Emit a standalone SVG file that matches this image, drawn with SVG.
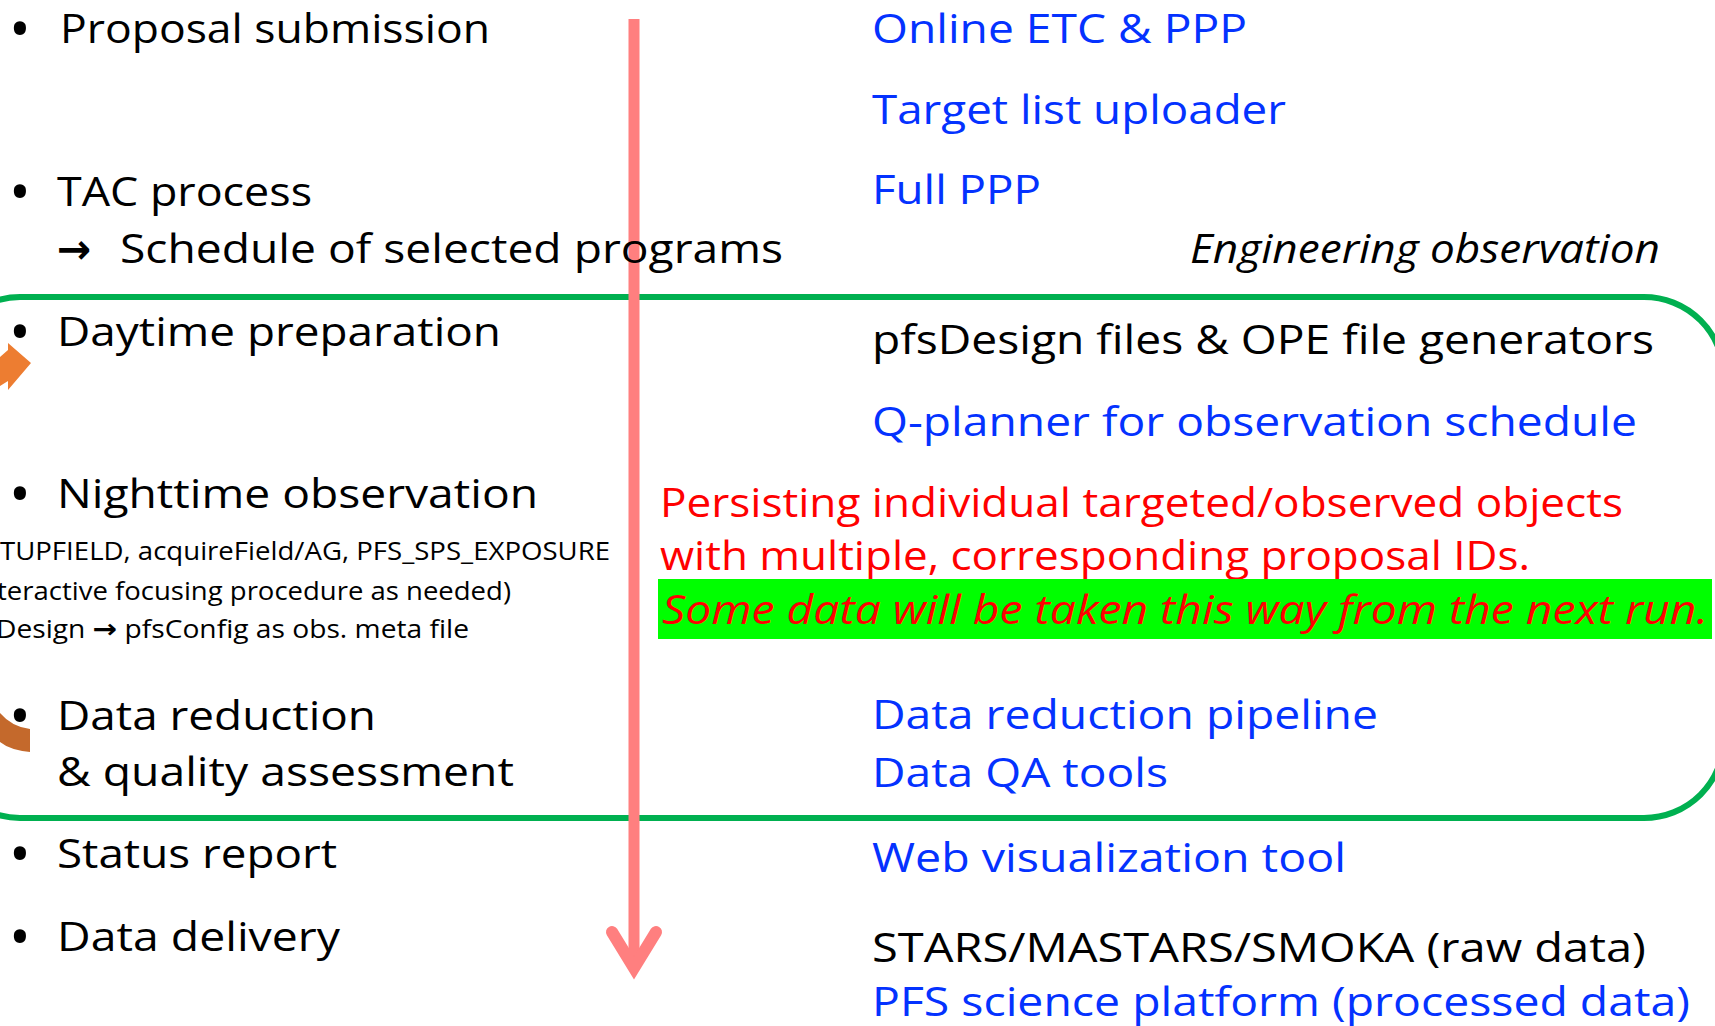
<svg xmlns="http://www.w3.org/2000/svg" width="1715" height="1026" viewBox="0 0 1715 1026">
<style>
text{font-family:"Open Sans","Noto Sans","Liberation Sans",sans-serif;}
.m{font-size:41px;fill:#000;}
.b{font-size:41px;fill:#0432FF;}
.r{font-size:40px;fill:#FF0000;}
.s{font-size:25px;fill:#000;}
.bul{font-size:58px;fill:#000;}
.arr{font-family:"DejaVu Sans",sans-serif;font-weight:bold;}
.it{font-style:italic;}
</style>
<rect width="1715" height="1026" fill="#fff"/>
<g id="region">
<rect x="-60" y="297" width="1784" height="521" rx="80" ry="80" fill="none" stroke="#00B050" stroke-width="6"/>
</g>
<g id="connectors">
<line x1="634" y1="19" x2="634" y2="962" stroke="#FF7F7F" stroke-width="11"/>
<polyline points="612,932 634,968 656,932" fill="none" stroke="#FF7F7F" stroke-width="12" stroke-linecap="round" stroke-linejoin="miter"/>
<polygon points="0,357 8,350 8,343 31,363 8,390 8,381 0,386" fill="#ED7D31"/>
<path d="M0,713 Q12,727 30,729 L30,752 Q10,750 0,742 Z" fill="#C4692C"/>
</g>
<g id="step-proposal">
<text class="bul" x="9" y="50">•</text>
<text class="m" x="60" y="43" textLength="430" lengthAdjust="spacingAndGlyphs">Proposal submission</text>
<text class="b" x="872" y="43" textLength="375" lengthAdjust="spacingAndGlyphs">Online ETC &amp; PPP</text>
<text class="b" x="872" y="124" textLength="414" lengthAdjust="spacingAndGlyphs">Target list uploader</text>
</g>
<g id="step-tac">
<text class="bul" x="9" y="213">•</text>
<text class="m" x="57" y="206" textLength="255" lengthAdjust="spacingAndGlyphs">TAC process</text>
<text class="m arr" x="57" y="263" font-size="46">→</text>
<text class="m" x="120" y="263" textLength="663" lengthAdjust="spacingAndGlyphs">Schedule of selected programs</text>
<text class="b" x="872" y="204" textLength="169" lengthAdjust="spacingAndGlyphs">Full PPP</text>
<text class="m it" x="1190" y="263" font-size="35" textLength="470" lengthAdjust="spacingAndGlyphs">Engineering observation</text>
</g>
<g id="step-daytime">
<text class="bul" x="9" y="353">•</text>
<text class="m" x="57" y="346" textLength="444" lengthAdjust="spacingAndGlyphs">Daytime preparation</text>
<text class="m" x="872" y="354" textLength="782" lengthAdjust="spacingAndGlyphs">pfsDesign files &amp; OPE file generators</text>
<text class="b" x="872" y="436" textLength="765" lengthAdjust="spacingAndGlyphs">Q-planner for observation schedule</text>
</g>
<g id="step-nighttime">
<text class="bul" x="9" y="515">•</text>
<text class="m" x="57" y="508" textLength="481" lengthAdjust="spacingAndGlyphs">Nighttime observation</text>
<text class="s" x="0" y="560" textLength="610" lengthAdjust="spacingAndGlyphs">TUPFIELD, acquireField/AG, PFS_SPS_EXPOSURE</text>
<text class="s" x="-3" y="600" textLength="514" lengthAdjust="spacingAndGlyphs">teractive focusing procedure as needed)</text>
<text class="s" x="-4" y="638" textLength="473" lengthAdjust="spacingAndGlyphs">Design <tspan class="arr" font-size="26">→</tspan> pfsConfig as obs. meta file</text>
<text class="r" x="660" y="517" textLength="963" lengthAdjust="spacingAndGlyphs">Persisting individual targeted/observed objects</text>
<text class="r" x="660" y="570" textLength="870" lengthAdjust="spacingAndGlyphs">with multiple, corresponding proposal IDs.</text>
<rect x="658" y="579" width="1054" height="60" fill="#00FF00"/>
<text class="r it" x="662" y="624" textLength="1046" lengthAdjust="spacingAndGlyphs">Some data will be taken this way from the next run.</text>
</g>
<g id="step-reduction">
<text class="bul" x="9" y="737">•</text>
<text class="m" x="57" y="730" textLength="319" lengthAdjust="spacingAndGlyphs">Data reduction</text>
<text class="m" x="57" y="786" textLength="457" lengthAdjust="spacingAndGlyphs">&amp; quality assessment</text>
<text class="b" x="872" y="729" textLength="506" lengthAdjust="spacingAndGlyphs">Data reduction pipeline</text>
<text class="b" x="872" y="787" textLength="296" lengthAdjust="spacingAndGlyphs">Data QA tools</text>
</g>
<g id="step-status">
<text class="bul" x="9" y="875">•</text>
<text class="m" x="57" y="868" textLength="280" lengthAdjust="spacingAndGlyphs">Status report</text>
<text class="b" x="872" y="872" textLength="474" lengthAdjust="spacingAndGlyphs">Web visualization tool</text>
</g>
<g id="step-delivery">
<text class="bul" x="9" y="958">•</text>
<text class="m" x="57" y="951" textLength="283" lengthAdjust="spacingAndGlyphs">Data delivery</text>
<text class="m" x="872" y="962" textLength="774" lengthAdjust="spacingAndGlyphs">STARS/MASTARS/SMOKA (raw data)</text>
<text class="b" x="872" y="1016" textLength="818" lengthAdjust="spacingAndGlyphs">PFS science platform (processed data)</text>
</g>
</svg>
